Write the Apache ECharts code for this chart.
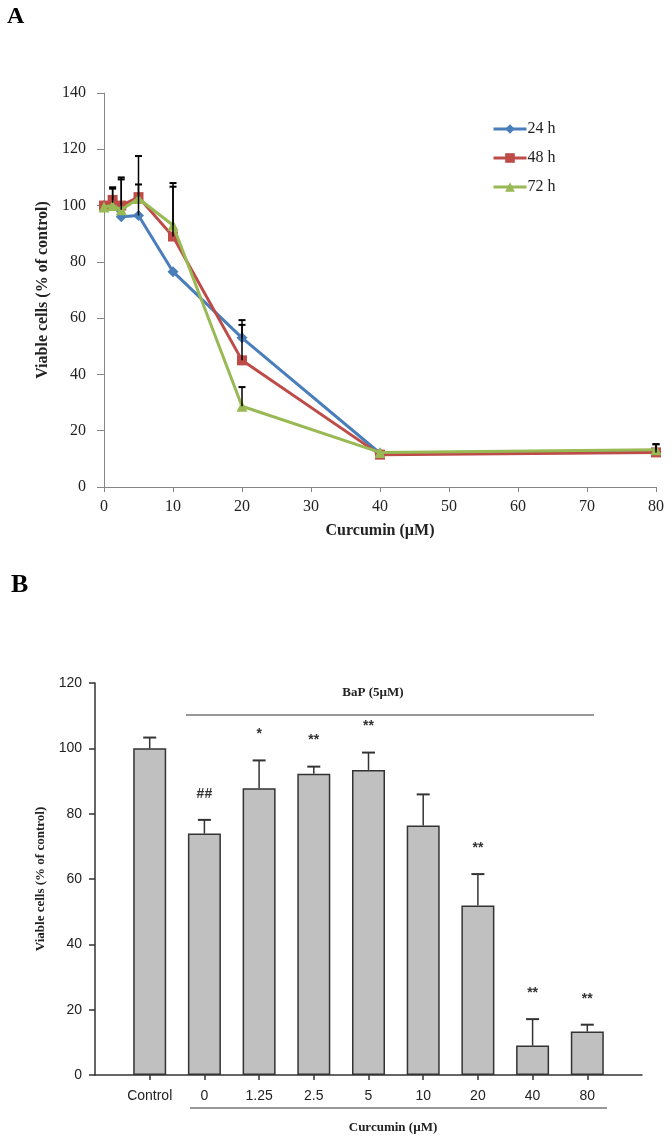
<!DOCTYPE html>
<html>
<head>
<meta charset="utf-8">
<script src="https://cdn.jsdelivr.net/npm/echarts@6/dist/echarts.min.js"></script>
<style>
html,body{margin:0;padding:0;background:#fff;}
#chart{width:672px;height:1141px;}
</style>
</head>
<body>
<div id="chart"></div>
<script>
// ---------- Panel A data ----------
const doseA = [0, 1.25, 2.5, 5, 10, 20, 40, 80];
const seriesNamesA = ['24 h', '48 h', '72 h'];
const viable24 = [100, 101, 96, 96.5, 76.5, 53, 12, 12.5];
const viable48 = [100, 102, 100, 103, 89, 45, 11.5, 12.3];
const viable72 = [99.5, 100, 98.5, 102.5, 93, 28.7, 12.3, 13.2];
const err24 = [0, 5, 0, 11, 0, 6.3, 0, 0];
const err48 = [0, 4.5, 10, 14.6, 17.7, 12.6, 0, 2.9];
const err72 = [0, 0, 10.8, 0, 15, 6.8, 0, 2.0];
const xTicksA = [0, 10, 20, 30, 40, 50, 60, 70, 80];

// ---------- Panel B data ----------
const categoriesB = ['Control', '0', '1.25', '2.5', '5', '10', '20', '40', '80'];
const viableB = [100, 73.9, 87.8, 92.2, 93.4, 76.4, 51.9, 9.0, 13.3];
const errB = [3.3, 4.2, 8.5, 2.2, 5.3, 9.5, 9.6, 8.1, 2.1];
const signifB = ['', '##', '*', '**', '**', '', '**', '**', '**'];

const serif = 'Liberation Serif';
const sans = 'Liberation Sans';
const colors = ['#4A7EBB', '#BE4B48', '#98B954'];
const symbols = ['diamond', 'rect', 'triangle'];
const symSizes = [11, 10, 11];

const chart = echarts.init(document.getElementById('chart'), null, {renderer: 'canvas'});

function errRenderer(halfCap, color, lw) {
  return function (params, api) {
    const x = api.value(0), y = api.value(1), e = api.value(2);
    if (!e) return null;
    const p0 = api.coord([x, y]);
    const p1 = api.coord([x, y + e]);
    return {
      type: 'group',
      children: [
        {type: 'line', shape: {x1: p0[0], y1: p0[1], x2: p1[0], y2: p1[1]}, style: {stroke: color, lineWidth: lw}},
        {type: 'line', shape: {x1: p1[0] - halfCap, y1: p1[1], x2: p1[0] + halfCap, y2: p1[1]}, style: {stroke: color, lineWidth: lw + 0.5}}
      ]
    };
  };
}

const valsA = [viable24, viable48, viable72];
const errsA = [err24, err48, err72];

const lineSeries = seriesNamesA.map((name, k) => ({
  name: name,
  type: 'line',
  xAxisIndex: 0, yAxisIndex: 0,
  data: doseA.map((d, i) => [d, valsA[k][i]]),
  symbol: symbols[k],
  symbolSize: symSizes[k],
  itemStyle: {color: colors[k]},
  lineStyle: {color: colors[k], width: 3},
  z: 2 + k
}));

const errSeriesA = seriesNamesA.map((name, k) => ({
  type: 'custom',
  xAxisIndex: 0, yAxisIndex: 0,
  data: doseA.map((d, i) => [d, valsA[k][i], errsA[k][i]]),
  dimensions: ['x', 'y', 'e'],
  encode: {x: 0, y: 1},
  renderItem: errRenderer(3.5, '#000', 1.5),
  silent: true,
  z: 10
}));

const option = {
  animation: false,
  backgroundColor: '#fff',
  legend: {
    data: seriesNamesA,
    orient: 'vertical',
    left: 487, top: 116,
    itemWidth: 33, itemHeight: 12, itemGap: 13,
    lineStyle: {width: 3},
    textStyle: {fontFamily: serif, fontSize: 16, color: '#222', padding: [0, 0, 0, -4]}
  },
  grid: [
    {left: 104, top: 93, width: 552, height: 394, containLabel: false},
    {left: 95, top: 683, width: 547, height: 392, containLabel: false}
  ],
  xAxis: [
    {
      gridIndex: 0, type: 'value', min: 0, max: 80, interval: 10,
      axisLine: {onZero: false, lineStyle: {color: '#868686', width: 1}},
      axisTick: {show: true, inside: false, length: 5, lineStyle: {color: '#868686'}},
      axisLabel: {fontFamily: serif, fontSize: 16, color: '#222', margin: 12,
        formatter: v => xTicksA.includes(v) ? String(v) : ''},
      splitLine: {show: false},
      name: 'Curcumin (µM)', nameLocation: 'middle', nameGap: 36,
      nameTextStyle: {fontFamily: serif, fontSize: 16, fontWeight: 'bold', color: '#222'}
    },
    {
      gridIndex: 1, type: 'value', min: -1, max: 9,
      axisLine: {onZero: false, lineStyle: {color: '#333', width: 1.5}},
      axisTick: {show: true, inside: false, length: 5, customValues: categoriesB.map((c, i) => i), lineStyle: {color: '#333', width: 1.5}},
      axisLabel: {fontFamily: sans, fontSize: 14, color: '#222', margin: 14,
        customValues: categoriesB.map((c, i) => i),
        formatter: v => categoriesB[Math.round(v)] ?? ''},
      splitLine: {show: false}
    }
  ],
  yAxis: [
    {
      gridIndex: 0, type: 'value', min: 0, max: 140, interval: 20,
      axisLine: {show: true, onZero: false, lineStyle: {color: '#868686', width: 1}},
      axisTick: {show: true, inside: false, length: 7, lineStyle: {color: '#868686'}},
      axisLabel: {fontFamily: serif, fontSize: 16, color: '#222', margin: 18},
      splitLine: {show: false},
      name: 'Viable cells (% of control)', nameLocation: 'middle', nameGap: 53,
      nameTextStyle: {fontFamily: serif, fontSize: 16, fontWeight: 'bold', color: '#222'}
    },
    {
      gridIndex: 1, type: 'value', min: 0, max: 120, interval: 20,
      axisLine: {show: true, onZero: false, lineStyle: {color: '#333', width: 1.5}},
      axisTick: {show: true, inside: false, length: 6, lineStyle: {color: '#333', width: 1.5}},
      axisLabel: {fontFamily: sans, fontSize: 14, color: '#222', margin: 13},
      splitLine: {show: false},
      name: 'Viable cells (% of control)', nameLocation: 'middle', nameGap: 48,
      nameTextStyle: {fontFamily: serif, fontSize: 13, fontWeight: 'bold', color: '#222'}
    }
  ],
  series: [
    ...lineSeries,
    ...errSeriesA,
    {
      type: 'bar',
      xAxisIndex: 1, yAxisIndex: 1,
      data: viableB.map((v, i) => [i, v]),
      barWidth: 33,
      itemStyle: {color: '#C0C0C0', borderColor: '#333', borderWidth: 1.5},
      silent: true
    },
    {
      type: 'custom',
      xAxisIndex: 1, yAxisIndex: 1,
      data: viableB.map((v, i) => [i, v, errB[i]]),
      dimensions: ['x', 'y', 'e'],
      encode: {x: 0, y: 1},
      renderItem: errRenderer(6.5, '#333', 1.5),
      silent: true,
      z: 10
    },
    {
      type: 'custom',
      xAxisIndex: 1, yAxisIndex: 1,
      data: viableB.map((v, i) => [i, v + errB[i]]),
      dimensions: ['x', 'y'],
      encode: {x: 0, y: 1},
      renderItem: function (params, api) {
        const s = signifB[params.dataIndex];
        if (!s) return null;
        const p = api.coord([api.value(0), api.value(1)]);
        return {
          type: 'text',
          style: {x: p[0], y: p[1] - 26, text: s, align: 'center', verticalAlign: 'middle',
            fontFamily: sans, fontSize: 14, fontWeight: 'bold', fill: '#333'}
        };
      },
      silent: true,
      z: 11
    }
  ],
  graphic: [
    {type: 'text', left: 7, top: 5, style: {text: 'A', fontFamily: serif, fontSize: 24, fontWeight: 'bold', fill: '#000'}},
    {type: 'text', left: 11, top: 572, style: {text: 'B', fontFamily: serif, fontSize: 26, fontWeight: 'bold', fill: '#000'}},
    {type: 'text', x: 373, y: 693, style: {text: 'BaP (5µM)', align: 'center', verticalAlign: 'middle', fontFamily: serif, fontSize: 13, fontWeight: 'bold', fill: '#222'}},
    {type: 'line', shape: {x1: 186, y1: 715, x2: 594, y2: 715}, style: {stroke: '#333', lineWidth: 1.2}},
    {type: 'line', shape: {x1: 190, y1: 1108, x2: 607, y2: 1108}, style: {stroke: '#333', lineWidth: 1.2}},
    {type: 'text', x: 393, y: 1128, style: {text: 'Curcumin (µM)', align: 'center', verticalAlign: 'middle', fontFamily: serif, fontSize: 13, fontWeight: 'bold', fill: '#222'}}
  ]
};

chart.setOption(option);
</script>
</body>
</html>
